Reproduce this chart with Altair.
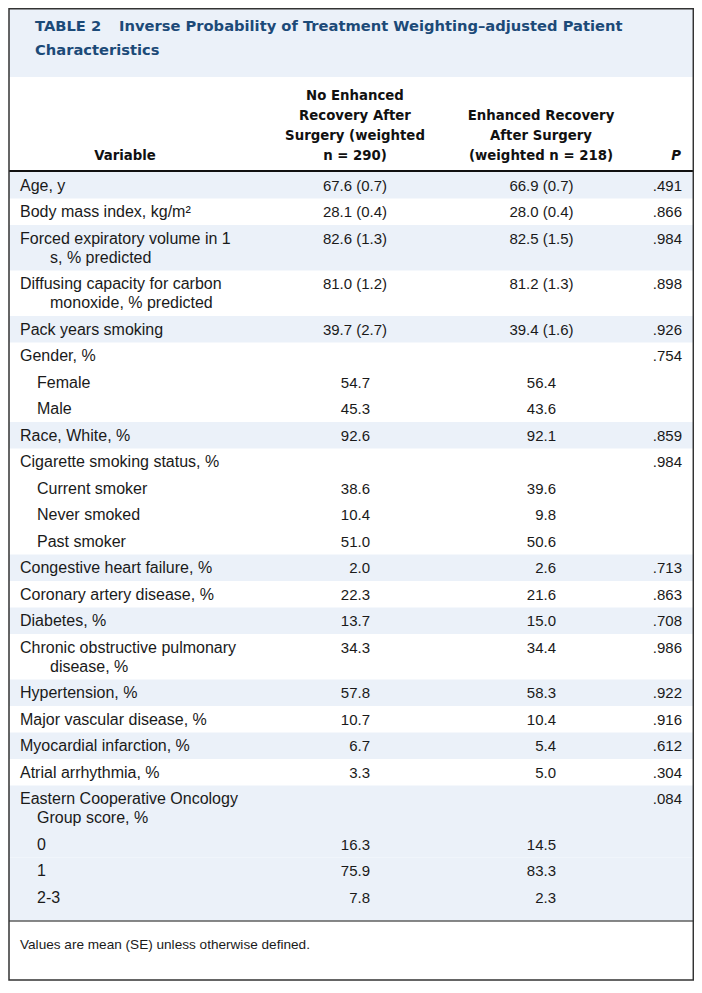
import altair as alt
import pandas as pd

# ---------------- data ----------------
title_tag = "TABLE 2"
title_text = ["Inverse Probability of Treatment Weighting\u2013adjusted Patient", "Characteristics"]

header_variable = ["Variable"]
header_no_eras = ["No Enhanced", "Recovery After", "Surgery (weighted", "n = 290)"]
header_eras = ["Enhanced Recovery", "After Surgery", "(weighted n = 218)"]
header_p = ["P"]

variables = [
    "Age, y",
    "Body mass index, kg/m\u00b2",
    "Forced expiratory volume in 1|s, % predicted",
    "Diffusing capacity for carbon|monoxide, % predicted",
    "Pack years smoking",
    "Gender, %",
    "Female",
    "Male",
    "Race, White, %",
    "Cigarette smoking status, %",
    "Current smoker",
    "Never smoked",
    "Past smoker",
    "Congestive heart failure, %",
    "Coronary artery disease, %",
    "Diabetes, %",
    "Chronic obstructive pulmonary|disease, %",
    "Hypertension, %",
    "Major vascular disease, %",
    "Myocardial infarction, %",
    "Atrial arrhythmia, %",
    "Eastern Cooperative Oncology|Group score, %",
    "0",
    "1",
    "2-3",
]
sub_item = [False, False, False, False, False, False, True, True, False, False,
            True, True, True, False, False, False, False, False, False, False,
            False, False, True, True, True]
no_eras = ["67.6 (0.7)", "28.1 (0.4)", "82.6 (1.3)", "81.0 (1.2)", "39.7 (2.7)", "",
           "54.7", "45.3", "92.6", "", "38.6", "10.4", "51.0", "2.0", "22.3", "13.7",
           "34.3", "57.8", "10.7", "6.7", "3.3", "", "16.3", "75.9", "7.8"]
eras = ["66.9 (0.7)", "28.0 (0.4)", "82.5 (1.5)", "81.2 (1.3)", "39.4 (1.6)", "",
        "56.4", "43.6", "92.1", "", "39.6", "9.8", "50.6", "2.6", "21.6", "15.0",
        "34.4", "58.3", "10.4", "5.4", "5.0", "", "14.5", "83.3", "2.3"]
p_values = [".491", ".866", ".984", ".898", ".926", ".754", "", "", ".859", ".984",
            "", "", "", ".713", ".863", ".708", ".986", ".922", ".916", ".612", ".304",
            ".084", "", "", ""]
footnote = "Values are mean (SE) unless otherwise defined."

# ---------------- layout ----------------
W, H = 686, 975
LEFT, RIGHT = 9, 693.3
TOP, BOTTOM = 8.8, 980
ROW_TOP, ROW_H, LINE_H, LAST_PAD, TEXT_OFF = 172, 26.5, 19, 10, 13.8
X_LABEL, X_SUB, X_WRAP = 20, 37, 50
WRAP_SPECIAL = {"Eastern Cooperative Oncology|Group score, %": 37}
COL_CENTER = [355, 541.5]
COL_RIGHT = [370, 556]
P_RIGHT = 682
HEAD_BASE, HEAD_LH = 156, 20
BLUE_BG = "#ebf1f9"
TITLE_COLOR = "#1c4a78"
TEXT = "#1a1a1a"
BODY_FONT = "Liberation Sans"
HEAD_FONT = "DejaVu Sans"

# ---------------- build tables ----------------
bands, labels, vals_c, vals_r = [], [], [], []
y = ROW_TOP
group = -1
for i, lab in enumerate(variables):
    lines = lab.split("|")
    if not sub_item[i]:
        group += 1
    h = ROW_H + LINE_H * (len(lines) - 1)
    if i == len(variables) - 1:
        h += LAST_PAD
    if group % 2 == 0:
        bands.append(dict(x=LEFT, x2=RIGHT, y=y, y2=y + h))
    wrap_x = WRAP_SPECIAL.get(lab, X_WRAP)
    for k, ln in enumerate(lines):
        x = X_SUB if sub_item[i] else (X_LABEL if k == 0 else wrap_x)
        labels.append(dict(x=x, y=y + TEXT_OFF + k * LINE_H, text=ln))
    ty = y + TEXT_OFF
    for j, v in enumerate([no_eras[i], eras[i]]):
        if not v:
            continue
        if "(" in v:
            vals_c.append(dict(x=COL_CENTER[j], y=ty, text=v))
        else:
            vals_r.append(dict(x=COL_RIGHT[j], y=ty, text=v))
    if p_values[i]:
        vals_r.append(dict(x=P_RIGHT, y=ty, text=p_values[i]))
    y += h
table_end = y

bands.append(dict(x=LEFT, x2=RIGHT, y=TOP, y2=77))  # title band

head_c = []
for x, arr in [(125, header_variable), (355, header_no_eras), (541, header_eras)]:
    n = len(arr)
    for k, t in enumerate(arr):
        head_c.append(dict(x=x, y=HEAD_BASE - (n - 1 - k) * HEAD_LH, text=t))
head_p = [dict(x=676, y=HEAD_BASE, text=header_p[0])]

title_rows = [dict(x=35, y=27, text=title_tag), dict(x=119, y=27, text=title_text[0]),
              dict(x=35, y=50.5, text=title_text[1])]
foot_rows = [dict(x=20, y=945, text=footnote)]

xs = alt.Scale(domain=[8, 8 + W], nice=False, zero=False)
ys = alt.Scale(domain=[8, 8 + H], nice=False, zero=False, reverse=True)


def X(f="x"):
    return alt.X(f"{f}:Q", scale=xs, axis=None)


def Y(f="y"):
    return alt.Y(f"{f}:Q", scale=ys, axis=None)


band_layer = alt.Chart(pd.DataFrame(bands)).mark_rect(color=BLUE_BG).encode(
    x=X(), x2="x2:Q", y=Y(), y2="y2:Q")

rules = pd.DataFrame([
    dict(x=LEFT, x2=RIGHT, y=171, y2=171, w=2.2),
    dict(x=LEFT, x2=RIGHT, y=table_end + 0.5, y2=table_end + 0.5, w=1.2),
])
rule_layer = alt.Chart(rules).mark_rule(color="#111").encode(
    x=X(), x2="x2:Q", y=Y(), y2="y2:Q",
    strokeWidth=alt.StrokeWidth("w:Q", scale=None))

border = alt.Chart(pd.DataFrame([dict(x=LEFT, x2=RIGHT, y=TOP, y2=BOTTOM)])).mark_rect(
    fillOpacity=0, stroke="#333", strokeWidth=1.5).encode(
    x=X(), x2="x2:Q", y=Y(), y2="y2:Q")


def text_layer(rows, align, size, weight="normal", color=TEXT, style="normal", font=BODY_FONT):
    return alt.Chart(pd.DataFrame(rows)).mark_text(
        align=align, baseline="middle", fontSize=size, fontWeight=weight,
        fontStyle=style, color=color, font=font).encode(x=X(), y=Y(), text="text:N")


chart = alt.layer(
    band_layer,
    rule_layer,
    text_layer(title_rows, "left", 14.7, "bold", TITLE_COLOR, font=HEAD_FONT),
    text_layer(head_c, "center", 13.3, "bold", "#111", font=HEAD_FONT),
    text_layer(head_p, "center", 13.3, "bold", "#111", "italic", font=HEAD_FONT),
    text_layer(labels, "left", 16),
    text_layer(vals_c, "center", 15),
    text_layer(vals_r, "right", 15),
    text_layer(foot_rows, "left", 13.6),
    border,
).properties(
    width=W, height=H, padding=0, autosize=alt.AutoSizeParams(type="none")
).configure_view(stroke=None)

chart.save("out.html", embed_options={"renderer": "svg", "actions": False})
